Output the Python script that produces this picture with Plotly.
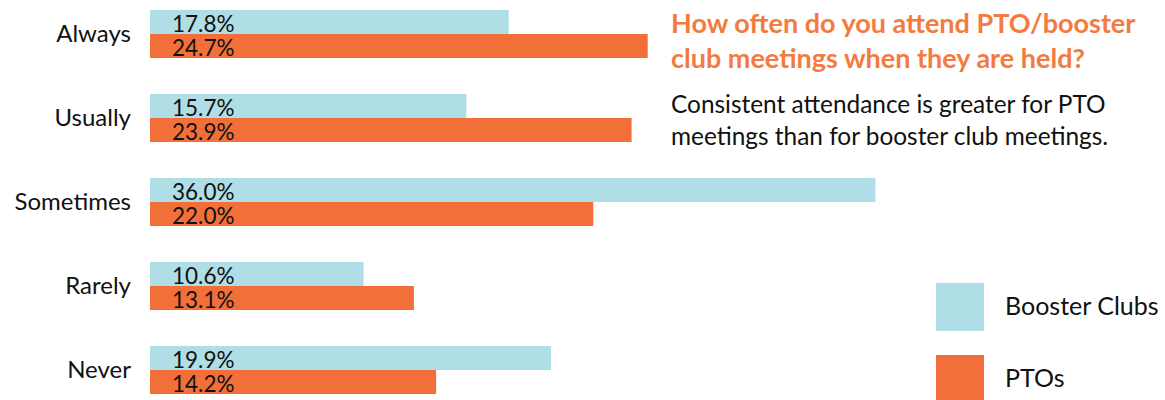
import plotly.graph_objects as go

categories = ["Always", "Usually", "Sometimes", "Rarely", "Never"]
booster = [17.8, 15.7, 36.0, 10.6, 19.9]
ptos = [24.7, 23.9, 22.0, 13.1, 14.2]
series_names = ["Booster Clubs", "PTOs"]

BLUE = "#afdee6"
ORANGE = "#f36f3a"
TITLE_ORANGE = "#f47b40"
FONT = "Lato, 'Open Sans', sans-serif"

W, H = 1165, 400
L = 150
XMAX = (W - L) / 20.15

def px(xp):
    return (xp - L) / (W - L)

def py(yp):
    return 1 - yp / H

fig = go.Figure()
fig.add_trace(go.Bar(y=categories, x=booster, orientation="h", name=series_names[0],
                     marker=dict(color=BLUE, line=dict(width=0)), showlegend=False))
fig.add_trace(go.Bar(y=categories, x=ptos, orientation="h", name=series_names[1],
                     marker=dict(color=ORANGE, line=dict(width=0)), showlegend=False))

annotations = []
for vals, shift in ((booster, 12), (ptos, -12)):
    for c, v in zip(categories, vals):
        annotations.append(dict(x=0, y=c, xref="x", yref="y", text=f"{v:.1f}%",
                                showarrow=False, xanchor="left", yanchor="middle",
                                xshift=21, yshift=shift - 1, borderpad=0,
                                font=dict(family=FONT, size=22.5, color="#111111")))

annotations.append(dict(x=px(669), y=py(40), xref="paper", yref="paper", xanchor="left", yanchor="middle",
                        align="left", showarrow=False,
                        text="<b>How often do you attend PTO/booster<br>club meetings when they are held?</b>",
                        font=dict(family=FONT, size=27, color=TITLE_ORANGE)))
annotations.append(dict(x=px(669), y=py(119), xref="paper", yref="paper", xanchor="left", yanchor="middle",
                        align="left", showarrow=False,
                        text="Consistent attendance is greater for PTO<br>meetings than for booster club meetings.",
                        font=dict(family=FONT, size=24.4, color="#111111")))

shapes = []
for name, col, yc, ty in ((series_names[0], BLUE, 307, 305), (series_names[1], ORANGE, 379, 377)):
    shapes.append(dict(type="rect", xref="paper", yref="paper",
                       x0=px(936), x1=px(984), y0=py(yc - 24), y1=py(yc + 24),
                       fillcolor=col, line=dict(width=0)))
    annotations.append(dict(x=px(1003), y=py(ty), xref="paper", yref="paper", xanchor="left",
                            yanchor="middle", showarrow=False, text=name,
                            font=dict(family=FONT, size=25, color="#111111")))

fig.update_layout(
    width=W, height=H,
    margin=dict(l=L, r=0, t=0, b=0),
    barmode="group", bargap=1 - 48 / 84, bargroupgap=0,
    plot_bgcolor="white", paper_bgcolor="white",
    xaxis=dict(range=[0, XMAX], visible=False, fixedrange=True),
    yaxis=dict(range=[366 / 84, -34 / 84], showgrid=False, zeroline=False, showline=False,
               ticks="", ticklabelstandoff=18,
               tickfont=dict(family=FONT, size=24, color="#111111")),
    annotations=annotations, shapes=shapes,
    font=dict(family=FONT),
)

fig.write_html("out.html")
